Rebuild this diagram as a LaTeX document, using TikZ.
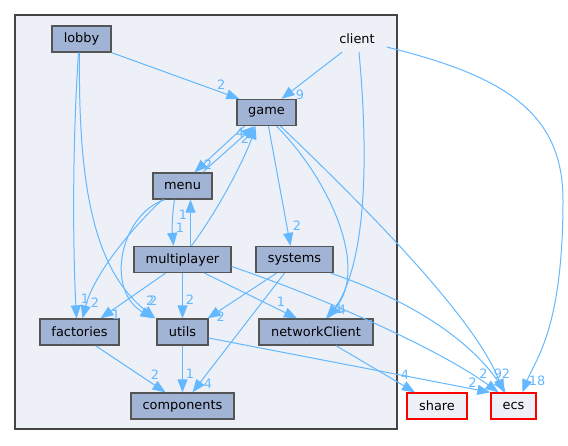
\documentclass[tikz,border=0pt]{standalone}
\usepackage{fontspec}
\setmainfont{DejaVu Sans}
\usetikzlibrary{arrows.meta}
\definecolor{dirfill}{HTML}{A2B4D6}
\definecolor{dirline}{HTML}{555555}
\definecolor{clusterfill}{HTML}{EDF0F7}
\definecolor{clusterline}{HTML}{444444}
\definecolor{edgeblue}{HTML}{63B8FF}
\begin{document}
\begin{tikzpicture}[x=1pt,y=-1pt,>={Triangle[length=13pt,width=10pt]},
  dir/.style={draw=dirline,fill=dirfill,line width=1.3pt,minimum height=26pt,inner sep=0pt,font=\fontsize{12.9}{15}\selectfont},
  ext/.style={dir,draw=red,fill=clusterfill},
  dep/.style={->,edgeblue,line width=1pt},
  lbl/.style={text=edgeblue,inner sep=0pt,font=\fontsize{12.9}{15}\selectfont}]
  \useasboundingbox (0,0) rectangle (568,445);
  % cluster of the client directory
  \draw[clusterline,fill=clusterfill,line width=2pt] (15,15) rectangle (397,429);
  \node[font=\fontsize{12.9}{15}\selectfont,minimum width=59pt,minimum height=26pt] (client) at (357,39) {client};
  \node[dir,minimum width=59pt] (lobby) at (81.5,39) {lobby};
  \node[dir,minimum width=59pt] (game) at (266.5,112.5) {game};
  \node[dir,minimum width=59pt] (menu) at (182.5,186) {menu};
  \node[dir,minimum width=97pt] (multiplayer) at (182.5,259.5) {multiplayer};
  \node[dir,minimum width=77pt] (systems) at (294.5,259.5) {systems};
  \node[dir,minimum width=79pt] (factories) at (79.5,332) {factories};
  \node[dir,minimum width=51pt] (utils) at (182.5,332) {utils};
  \node[dir,minimum width=114pt] (networkClient) at (316,332) {networkClient};
  \node[dir,minimum width=103pt] (components) at (182.5,406) {components};
  % directories outside the cluster
  \node[ext,minimum width=60pt] (share) at (437,406) {share};
  \node[ext,minimum width=45pt] (ecs) at (513.5,406) {ecs};
  % dependencies, label at the head
  \draw[dep] (lobby.south east) -- ([xshift=3pt]game.north west) node[lbl,pos=1,xshift=-18pt,yshift=14.5pt]{2};
  \draw[dep] ([xshift=-3pt]lobby.south) .. controls (72,150) and (73,250) .. ([xshift=-3pt]factories.north) node[lbl,pos=1,xshift=8.5pt,yshift=20pt]{1};
  \draw[dep] ([xshift=-2pt]lobby.south) .. controls (78,190) and (95,270) .. ([xshift=-1pt]utils.north west) node[lbl,pos=1,xshift=-5pt,yshift=18pt]{2};
  \draw[dep] ([xshift=-20pt]menu.south) .. controls (140,220) and (95,270) .. ([xshift=3pt]factories.north) node[lbl,pos=1,xshift=12.5pt,yshift=16pt]{2};
  \draw[dep] ([xshift=-18pt]menu.south) .. controls (120,215) and (105,290) .. ([xshift=-3pt]utils.north west) node[lbl,pos=1,xshift=0pt,yshift=18pt]{2};
  \draw[dep] ([xshift=-8pt]menu.south) .. controls (172,215) and (172,230) .. ([xshift=-9pt]multiplayer.north) node[lbl,pos=1,xshift=6.5pt,yshift=18pt]{1};
  \draw[dep] ([xshift=8pt]multiplayer.north) -- ([xshift=8pt]menu.south) node[lbl,pos=1,xshift=-7.5pt,yshift=-15.5pt]{1};
  \draw[dep] ([xshift=-22pt]game.south) -- ([xshift=12pt]menu.north) node[lbl,pos=1,xshift=13.5pt,yshift=8pt]{2};
  \draw[dep] ([xshift=20pt]menu.north) -- ([xshift=-12pt]game.south) node[lbl,pos=1,xshift=-14.5pt,yshift=-6.5pt]{4};
  \draw[dep] ([xshift=9pt]multiplayer.north) .. controls (225,200) and (248,150) .. ([xshift=-11pt]game.south) node[lbl,pos=1,xshift=-10.5pt,yshift=-12.5pt]{2};
  \draw[dep] ([xshift=-15pt]client.south) -- ([xshift=15pt]game.north) node[lbl,pos=1,xshift=18.5pt,yshift=4.5pt]{9};
  \draw[dep] ([xshift=2pt]client.south) .. controls (368,150) and (368,260) .. ([xshift=12pt]networkClient.north) node[lbl,pos=1,xshift=11pt,yshift=10pt]{1};
  \draw[dep] ([xshift=10pt]game.south) .. controls (330,180) and (370,270) .. ([xshift=10pt]networkClient.north) node[lbl,pos=1,xshift=16pt,yshift=9pt]{4};
  \draw[dep] ([xshift=2pt]game.south) -- ([xshift=-4pt]systems.north) node[lbl,pos=1,xshift=6.5pt,yshift=20.5pt]{2};
  \draw[dep] ([xshift=14pt]game.south) .. controls (400,240) and (480,330) .. ([xshift=-10pt]ecs.north) node[lbl,pos=1,xshift=-5.5pt,yshift=19pt]{9};
  \draw[dep] ([xshift=-17pt]multiplayer.south) -- ([xshift=21pt]factories.north) node[lbl,pos=1,xshift=15.5pt,yshift=4pt]{1};
  \draw[dep] (multiplayer) -- (utils) node[lbl,pos=1,xshift=7.5pt,yshift=19pt]{2};
  \draw[dep] ([xshift=22pt]multiplayer.south) -- ([xshift=-19pt]networkClient.north) node[lbl,pos=1,xshift=-16pt,yshift=17pt]{1};
  \draw[dep] ([yshift=-7pt]multiplayer.east) .. controls (330,300) and (440,350) .. ([xshift=-15pt]ecs.north) node[lbl,pos=1,xshift=-15pt,yshift=19pt]{2};
  \draw[dep] ([xshift=-18pt]systems.south) -- ([xshift=-1pt]utils.north east) node[lbl,pos=1,xshift=13pt,yshift=2pt]{2};
  \draw[dep] ([xshift=-10pt]systems.south) -- ([xshift=10pt]components.north) node[lbl,pos=1,xshift=15.5pt,yshift=9pt]{4};
  \draw[dep] ([xshift=-3pt]systems.south east) .. controls (410,300) and (470,340) .. ([xshift=-8pt]ecs.north) node[lbl,pos=1,xshift=0.5pt,yshift=19pt]{2};
  \draw[dep] ([yshift=-6pt]utils.east) -- (ecs.north west) node[lbl,pos=1,xshift=-18pt,yshift=10pt]{2};
  \draw[dep] (utils) -- (components) node[lbl,pos=1,xshift=7.5pt,yshift=19pt]{1};
  \draw[dep] ([xshift=16pt]factories.south) -- ([xshift=-17pt]components.north) node[lbl,pos=1,xshift=-10.5pt,yshift=18pt]{2};
  \draw[dep] ([xshift=20pt]networkClient.south) -- ([xshift=-22pt]share.north) node[lbl,pos=1,xshift=-10pt,yshift=18pt]{4};
  \draw[dep] ([yshift=-8pt]client.east) .. controls (500,75) and (563,110) .. (563,200) .. controls (563,330) and (535,360) .. ([xshift=9pt]ecs.north) node[lbl,pos=1,xshift=14.5pt,yshift=12pt]{18};
\end{tikzpicture}
\end{document}
